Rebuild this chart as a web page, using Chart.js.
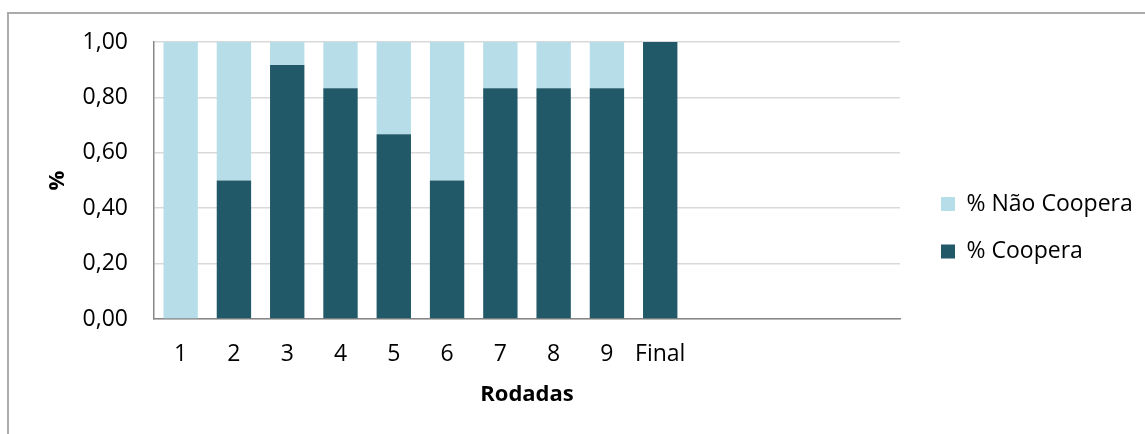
<!DOCTYPE html>
<html>
<head>
<meta charset="utf-8">
<script src="https://cdn.jsdelivr.net/npm/chart.js@4.4.1/dist/chart.umd.min.js"></script>
<style>
  html, body { margin: 0; padding: 0; background: #ffffff; overflow: hidden; }
  #wrap { position: relative; width: 1145px; height: 434px; }
  #frame { position: absolute; left: 7px; top: 12px; width: 1300px; height: 600px;
           border-left: 2px solid #ababab; border-top: 2px solid #ababab; box-sizing: border-box; }
  #c { position: absolute; left: 0; top: 0; }
</style>
</head>
<body>
<div id="wrap">
  <div id="frame"></div>
  <canvas id="c" width="1145" height="434"></canvas>
</div>
<script>
// Rounds of the game (the axis keeps four empty slots after "Final")
const rodadas = ['1', '2', '3', '4', '5', '6', '7', '8', '9', 'Final', '', '', '', ''];
// Share of players who cooperate in each round
const coopera = [0.00, 0.50, 0.917, 0.833, 0.667, 0.50, 0.833, 0.833, 0.833, 1.00];
// Share of players who do not cooperate in each round
const naoCoopera = [1.00, 0.50, 0.083, 0.167, 0.333, 0.50, 0.167, 0.167, 0.167, 0.00];
// Value axis labels (decimal comma)
const yTickLabels = ['0,00', '0,20', '0,40', '0,60', '0,80', '1,00'];

const seriesNames = ['% Coopera', '% Não Coopera'];
const colorCoopera = '#215968';
const colorNaoCoopera = '#b7dee8';

const FONT = "'Open Sans', 'Noto Sans', sans-serif";
const LABEL_SIZE = 23;
const TITLE_SIZE = 22;

// Keeps the legend at a fixed width and places it beside the plot
const legendPlacement = {
  id: 'legendPlacement',
  beforeLayout(chart) {
    const lg = chart.legend;
    if (lg && !lg._fixedWidth) {
      const fit = lg.fit.bind(lg);
      lg.fit = function () { fit(); this.width = 245; };
      lg._fixedWidth = true;
    }
  },
  afterLayout(chart) {
    const lg = chart.legend;
    if (!lg) return;
    const pad = lg.options.labels.padding;
    const dx = 941 - (lg.left + pad);
    lg.left += dx; lg.right += dx;
    lg.top = 192.5 - pad;
    lg.bottom = 434;
    lg.height = lg.bottom - lg.top;
  }
};

new Chart(document.getElementById('c'), {
  type: 'bar',
  data: {
    labels: rodadas,
    datasets: [
      { label: seriesNames[0], data: coopera, backgroundColor: colorCoopera, borderWidth: 0 },
      { label: seriesNames[1], data: naoCoopera, backgroundColor: colorNaoCoopera, borderWidth: 0 }
    ]
  },
  options: {
    responsive: false,
    animation: false,
    devicePixelRatio: 1,
    datasets: { bar: { categoryPercentage: 1.0, barPercentage: 0.645 } },
    layout: { padding: { left: 30, top: 42, right: 0, bottom: 10 } },
    plugins: {
      tooltip: { enabled: false },
      legend: {
        position: 'right',
        align: 'start',
        reverse: true,
        labels: {
          boxWidth: 14,
          boxHeight: 14,
          padding: 24.5,
          color: '#000000',
          font: { family: FONT, size: LABEL_SIZE, lineHeight: 1 }
        }
      }
    },
    scales: {
      x: {
        stacked: true,
        grid: { display: false, drawTicks: false },
        border: { display: true, color: '#878787', width: 1.5 },
        ticks: { padding: 22, color: '#000000', font: { family: FONT, size: LABEL_SIZE }, maxRotation: 0, autoSkip: false },
        title: {
          display: true, text: 'Rodadas', color: '#000000',
          font: { family: FONT, size: TITLE_SIZE, weight: 'bold' },
          padding: { top: 0, bottom: 16 }
        },
        afterFit(scale) { scale.height = 105; }
      },
      y: {
        stacked: true,
        min: 0,
        max: 1,
        ticks: {
          stepSize: 0.2,
          padding: 26,
          color: '#000000',
          font: { family: FONT, size: LABEL_SIZE },
          callback: (value, index) => yTickLabels[index]
        },
        grid: { color: '#d9d9d9', lineWidth: 1.5, drawTicks: false },
        border: { display: true, color: '#878787', width: 1.5 },
        title: {
          display: true, text: '%', color: '#000000',
          font: { family: FONT, size: TITLE_SIZE, weight: 'bold' },
          padding: { top: 15, bottom: 0 }
        },
        afterFit(scale) { scale.width = 124; }
      }
    }
  },
  plugins: [legendPlacement]
});
</script>
</body>
</html>
